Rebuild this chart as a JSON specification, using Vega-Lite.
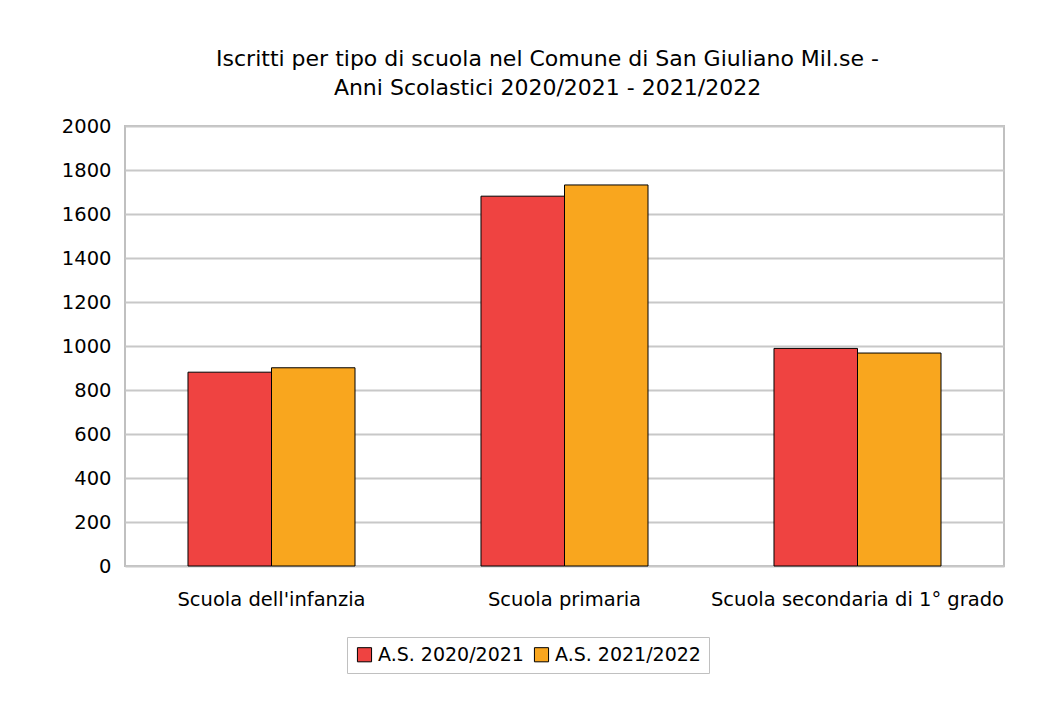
{
  "$schema": "https://vega.github.io/schema/vega-lite/v6.json",
  "width": 879,
  "height": 440,
  "autosize": {"type": "none"},
  "padding": {"left": 125, "top": 126, "right": 43, "bottom": 137},
  "background": "white",
  "title": {
    "text": ["Iscritti per tipo di scuola nel Comune di San Giuliano Mil.se -", "Anni Scolastici 2020/2021 - 2021/2022"],
    "font": "DejaVu Sans",
    "fontSize": 22,
    "fontWeight": "normal",
    "color": "#000000",
    "anchor": "middle",
    "dx": -17,
    "offset": 16,
    "lineHeight": 29
  },
  "data": {
    "values": [
      {"scuola": "Scuola dell'infanzia", "anno": "A.S. 2020/2021", "iscritti": 881},
      {"scuola": "Scuola dell'infanzia", "anno": "A.S. 2021/2022", "iscritti": 901},
      {"scuola": "Scuola primaria", "anno": "A.S. 2020/2021", "iscritti": 1681},
      {"scuola": "Scuola primaria", "anno": "A.S. 2021/2022", "iscritti": 1732},
      {"scuola": "Scuola secondaria di 1° grado", "anno": "A.S. 2020/2021", "iscritti": 989},
      {"scuola": "Scuola secondaria di 1° grado", "anno": "A.S. 2021/2022", "iscritti": 968}
    ]
  },
  "mark": {"type": "bar", "stroke": "#000000", "strokeWidth": 1},
  "encoding": {
    "x": {
      "field": "scuola",
      "type": "nominal",
      "sort": null,
      "title": null,
      "scale": {"paddingInner": 0.43, "paddingOuter": 0.215},
      "axis": {
        "labelAngle": 0,
        "labelFont": "DejaVu Sans",
        "labelFontSize": 19.5,
        "labelColor": "#000000",
        "labelPadding": 24,
        "labelLimit": 400,
        "ticks": false,
        "domain": false,
        "grid": false
      }
    },
    "xOffset": {"field": "anno", "type": "nominal"},
    "y": {
      "field": "iscritti",
      "type": "quantitative",
      "title": null,
      "scale": {"domain": [0, 2000]},
      "axis": {
        "values": [0, 200, 400, 600, 800, 1000, 1200, 1400, 1600, 1800, 2000],
        "format": "d",
        "labelFont": "DejaVu Sans",
        "labelFontSize": 19.5,
        "labelColor": "#000000",
        "labelPadding": 14,
        "ticks": false,
        "domain": false,
        "grid": true,
        "gridColor": "#c8c8c8",
        "gridWidth": 2
      }
    },
    "color": {
      "field": "anno",
      "type": "nominal",
      "title": null,
      "scale": {"domain": ["A.S. 2020/2021", "A.S. 2021/2022"], "range": ["#EF4341", "#F9A61E"]},
      "legend": {
        "orient": "none",
        "legendX": 222,
        "legendY": 511,
        "direction": "horizontal",
        "symbolType": "square",
        "symbolSize": 200,
        "symbolStrokeColor": "#000000",
        "symbolStrokeWidth": 1,
        "labelFont": "DejaVu Sans",
        "labelFontSize": 19,
        "labelColor": "#000000",
        "strokeColor": "#c0c0c0",
        "padding": 8,
        "columnPadding": 8,
        "symbolOffset": 0
      }
    }
  },
  "config": {
    "view": {"stroke": "#c0c0c0", "strokeWidth": 2}
  }
}
